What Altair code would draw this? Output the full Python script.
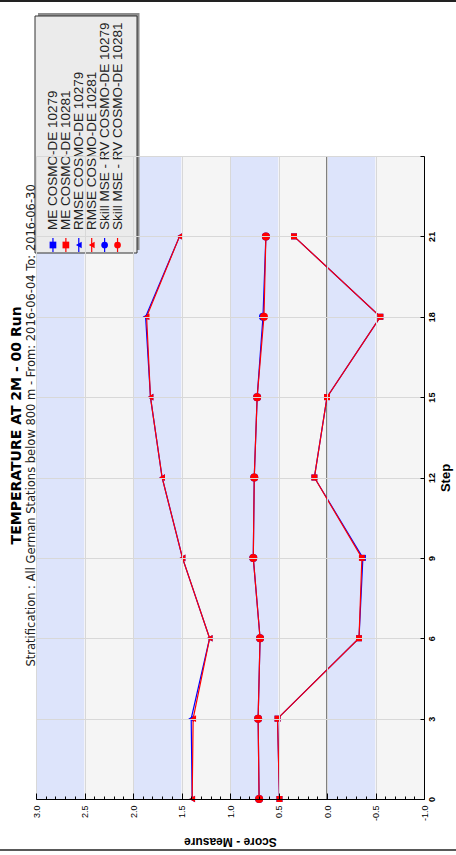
import altair as alt
import pandas as pd

# ---------------- data ----------------
steps = [0, 3, 6, 9, 12, 15, 18, 21]
me_10279 = [0.49, 0.51, -0.33, -0.37, 0.13, 0.00, -0.55, 0.34]
me_10281 = [0.49, 0.51, -0.33, -0.36, 0.13, 0.00, -0.55, 0.34]
rmse_10279 = [1.39, 1.40, 1.21, 1.49, 1.70, 1.82, 1.87, 1.52]
rmse_10281 = [1.39, 1.38, 1.21, 1.49, 1.70, 1.82, 1.86, 1.52]
skill_10279 = [0.70, 0.71, 0.69, 0.76, 0.75, 0.72, 0.66, 0.63]
skill_10281 = [0.70, 0.71, 0.69, 0.76, 0.75, 0.72, 0.65, 0.63]

series_names = [
    "ME COSMO-DE 10279",
    "ME COSMO-DE 10281",
    "RMSE COSMO-DE 10279",
    "RMSE COSMO-DE 10281",
    "Skill MSE - RV COSMO-DE 10279",
    "Skill MSE - RV COSMO-DE 10281",
]
series_measure = ["ME", "ME", "RMSE", "RMSE", "Skill", "Skill"]
series_station = ["10279", "10281", "10279", "10281", "10279", "10281"]
series_values = [me_10279, me_10281, rmse_10279, rmse_10281, skill_10279, skill_10281]

stations = ["10279", "10281"]
station_colors = ["#0000ff", "#ff0000"]
measures = ["ME", "RMSE", "Skill"]
measure_shapes = ["square", "triangle-left", "circle"]
measure_sizes = [36, 45, 64]

band_edges = [3.0, 2.5, 2.0, 1.5, 1.0, 0.5, 0.0, -0.5, -1.0]
band_colors = ["#dde4fb", "#f5f5f5"]
score_ticks = [round(-1 + 0.1 * i, 1) for i in range(41)]
step_ticks = [0, 3, 6, 9, 12, 15, 18, 21, 24]

title_text = "TEMPERATURE AT 2M - 00 Run"
subtitle_text = ("Stratification : All German Stations below 800 m - "
                 "From: 2016-06-04 To: 2016-06-30")

# ---------------- tables ----------------
rows = []
for name, meas, st, vals in zip(series_names, series_measure, series_station, series_values):
    for s, v in zip(steps, vals):
        rows.append({"series": name, "measure": meas, "station": st, "step": s, "score": v})
df = pd.DataFrame(rows)

df_bands = pd.DataFrame({
    "lo": band_edges[1:],
    "hi": band_edges[:-1],
    "fill": [band_colors[i % 2] for i in range(len(band_edges) - 1)],
})
df_zero = pd.DataFrame({"score": [0.0]})
df_leg = pd.DataFrame({"series": series_names, "measure": series_measure, "station": series_station})
df_one = pd.DataFrame({"k": [0]})

# ---------------- scales / axes ----------------
W, H = 388, 643
xs = alt.Scale(domain=[-1, 3], reverse=True, nice=False, zero=False)
ys = alt.Scale(domain=[0, 24], nice=False, zero=False)
MAJOR = "abs(datum.value * 2 - round(datum.value * 2)) < 0.01"

x_axis = alt.Axis(
    values=score_ticks, orient="bottom", title="Score - Measure",
    labelExpr=f"{MAJOR} ? replace(format(datum.value, '.1f'), '\u2212', '-') : ''",
    labelAngle=270, labelAlign="right", labelBaseline="middle",
    labelFontSize=9, labelColor="#000000", labelPadding=12,
    labelFlush=False, labelOverlap=False,
    tickSize=alt.ExprRef(f"{MAJOR} ? -6 : -3"), tickColor="#000000", tickWidth=1,
    domainColor="#000000", domainWidth=1,
    grid=True, gridColor="#d8d8d8", gridWidth=1,
    gridOpacity=alt.ExprRef(f"{MAJOR} ? 1 : 0"),
    titleAngle=180, titleBaseline="bottom", titleFontSize=12, titleFontWeight="bold",
    titleColor="#000000", titlePadding=14, zindex=1,
)
y_axis = alt.Axis(
    values=step_ticks, orient="right", title="Step",
    labelExpr="datum.value < 24 ? datum.label : ''",
    labelAngle=270, labelAlign="center", labelBaseline="top",
    labelFontSize=9, labelFontWeight="bold", labelColor="#000000", labelPadding=7,
    labelFlush=False, labelOverlap=False,
    tickSize=alt.ExprRef("-4"), tickColor="#000000",
    domainColor="#000000", domainWidth=1,
    grid=True, gridColor="#d8d8d8", gridWidth=1,
    titleAngle=270, titleBaseline="top", titleFontSize=13, titleFontWeight="bold",
    titleColor="#000000", titlePadding=3, zindex=1,
)


def X(field):
    return alt.X(field, type="quantitative", scale=xs, axis=x_axis)


def Y(field):
    return alt.Y(field, type="quantitative", scale=ys, axis=y_axis)


bands = alt.Chart(df_bands).mark_rect().encode(
    x=X("lo"), x2="hi",
    y=alt.YDatum(0, type="quantitative", scale=ys, axis=y_axis), y2=alt.Y2Datum(24),
    color=alt.Color("fill:N", scale=None),
)
zero = alt.Chart(df_zero).mark_rule(color="#808080", strokeWidth=2).encode(x=X("score"))


def station_layers(st, color, lw):
    d = df[df.station == st]
    out = [alt.Chart(d).mark_line(color=color, strokeWidth=lw).encode(
        x=X("score"), y=Y("step"), detail="measure:N", order="step:Q")]
    for m, sh, sz in zip(measures, measure_shapes, measure_sizes):
        out.append(alt.Chart(d[d.measure == m]).mark_point(
            shape=sh, size=sz, filled=True, color=color, opacity=1).encode(
            x=X("score"), y=Y("step")))
    return out


main = alt.layer(bands, zero,
                 *station_layers(stations[0], station_colors[0], 1.2),
                 *station_layers(stations[1], station_colors[1], 1.2))

# ---------------- legend (rotated) and page frame ----------------
leg_x = alt.X("series:N", scale=alt.Scale(domain=series_names, range=[10.5, 88], padding=0), axis=None)
leg_color = alt.Color("station:N", scale=alt.Scale(domain=stations, range=station_colors), legend=None)
leg_shape = alt.Shape("measure:N", scale=alt.Scale(domain=measures, range=measure_shapes), legend=None)

frame_top = alt.Chart(df_one).mark_rule(color="#222222", strokeWidth=2).encode(
    x=alt.value(-36), x2=alt.value(420), y=alt.value(-155))
frame_bottom = alt.Chart(df_one).mark_rule(color="#222222", strokeWidth=1.5).encode(
    x=alt.value(-36), x2=alt.value(420), y=alt.value(694))
shadow = alt.Chart(df_one).mark_rect(fill="#8c8c8c").encode(
    x=alt.value(2), x2=alt.value(103.5), y=alt.value(-143), y2=alt.value(94))
box = alt.Chart(df_one).mark_rect(fill="#ebebeb", stroke="#333333", strokeWidth=1).encode(
    x=alt.value(-1), x2=alt.value(101), y=alt.value(-140), y2=alt.value(97))
leg_rule = alt.Chart(df_leg).mark_rule(strokeWidth=1.2).encode(
    x=leg_x, y=alt.value(82), y2=alt.value(96), color=leg_color)
leg_sym = alt.Chart(df_leg).mark_point(filled=True, opacity=1, size=45).encode(
    x=leg_x, y=alt.value(89), color=leg_color, shape=leg_shape)
leg_text = alt.Chart(df_leg).mark_text(angle=270, align="left", baseline="middle",
                                       fontSize=13.5, color="#222222").encode(
    x=leg_x, y=alt.value(74), text="series:N")
legend = alt.layer(frame_top, frame_bottom, shadow, box, leg_rule, leg_sym, leg_text)

chart = alt.layer(main, legend).resolve_scale(x="independent").properties(
    width=W, height=H,
    autosize="none",
    padding={"left": 36, "top": 156, "right": 32, "bottom": 56},
    title=alt.TitleParams(
        text=title_text, subtitle=subtitle_text, orient="left", anchor="middle",
        frame="bounds", font="DejaVu Sans", fontSize=14, fontWeight="bold", color="#000000",
        subtitleFont="DejaVu Sans", subtitleFontSize=11.5, subtitleColor="#222222",
        subtitlePadding=2, offset=alt.ExprRef("-38.5"),
    ),
).configure(font="Liberation Sans").configure_view(stroke=None)

chart.save("out.html", embed_options={"renderer": "svg", "actions": False})
